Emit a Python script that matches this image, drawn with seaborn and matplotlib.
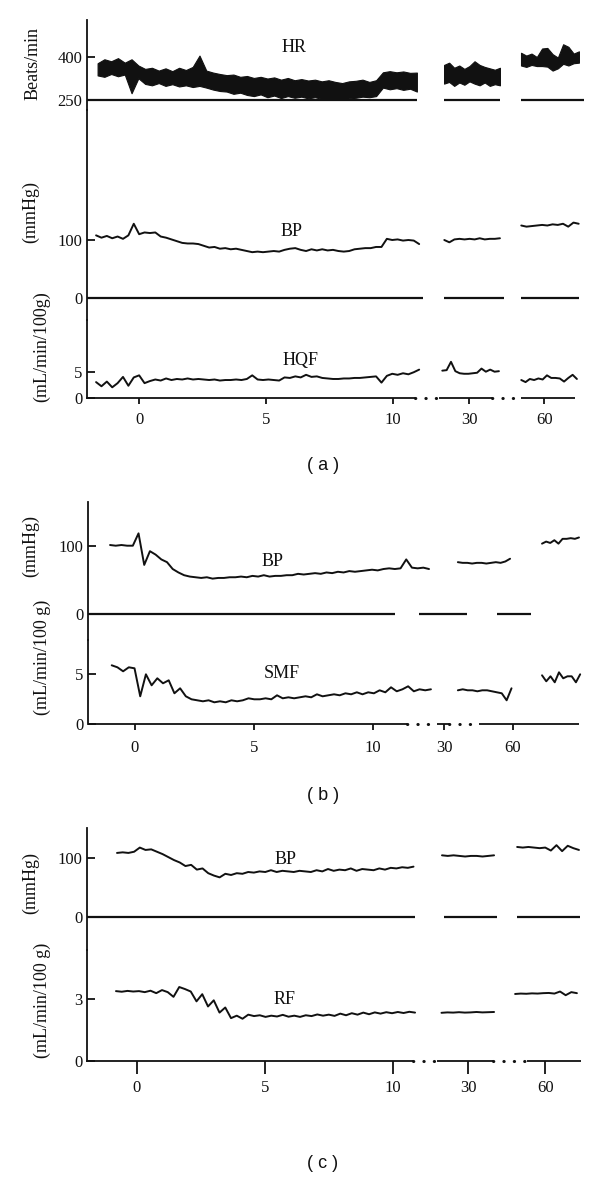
import numpy as np
import matplotlib.pyplot as plt
import seaborn as sns

sns.set_style('ticks')
plt.rcParams['font.family'] = ['Liberation Serif', 'DejaVu Serif']

W, H = 600, 1179
RIGHT = 595
INK = '#111111'

# ---------------- data ----------------
time_labels = ['0', '5', '10', '30', '60']
a_time_ticks = [0, 5, 10, 13.0, 15.95]
b_time_ticks = [0, 5, 10, 12.98, 15.87]
c_time_ticks = [0, 5, 10, 12.94, 15.94]

# panel (a): heart rate band (beats/min)
a_hr_span = [(-1.63, 10.94), (12.01, 14.21), (15.04, 17.32)]
a_hr_hi_1 = [378, 392, 385, 396, 380, 392, 370, 358, 362, 352,
             360, 350, 362, 354, 365, 405, 352, 345, 340, 336,
             338, 330, 333, 326, 330, 324, 328, 320, 326, 318,
             322, 317, 320, 314, 318, 312, 308, 314, 316, 320,
             312, 318, 346, 350, 346, 349, 344, 345]
a_hr_lo_1 = [335, 330, 340, 332, 338, 272, 325, 305, 300, 308,
             298, 304, 296, 300, 294, 298, 292, 285, 280, 278,
             270, 274, 266, 262, 268, 258, 264, 255, 262, 256,
             260, 254, 258, 252, 250, 252, 250, 254, 256, 260,
             258, 262, 292, 286, 290, 284, 288, 278]
a_hr_hi_2 = [372, 380, 362, 370, 358, 368, 385, 372, 365, 360, 355, 362]
a_hr_lo_2 = [306, 312, 298, 310, 302, 314, 306, 300, 310, 298, 304, 300]
a_hr_hi_3 = [415, 405, 412, 400, 430, 432, 410, 398, 445, 436, 412, 420]
a_hr_lo_3 = [370, 365, 372, 368, 368, 366, 352, 360, 376, 370, 378, 380]
a_hr_base = [(-2.07, 10.94), (12.0, 14.2), (15.04, 17.5)]

# panel (a): blood pressure (mmHg)
a_bp_span = [(-1.69, 11.03), (12.02, 14.21), (15.05, 17.31)]
a_bp_1 = [108, 104, 107, 103, 106, 102, 108, 128, 110, 113,
          112, 113, 106, 104, 101, 98, 95, 94, 94, 93,
          90, 87, 88, 85, 86, 84, 85, 83, 81, 79,
          80, 79, 80, 81, 80, 83, 85, 86, 83, 81,
          84, 82, 84, 82, 83, 81, 80, 81, 84, 85,
          86, 86, 88, 88, 102, 100, 101, 99, 100, 99,
          93]
a_bp_2 = [100, 96, 101, 102, 101, 102, 101, 103, 101, 102, 102, 103]
a_bp_3 = [125, 123, 124, 125, 126, 125, 127, 126, 128, 123, 130, 128]
a_bp_base = [(-2.07, 11.18), (12.0, 14.37), (15.04, 17.32)]

# panel (a): hepatic flow HQF (mL/min/100g)
a_hqf_span = [(-1.69, 11.03), (11.94, 14.17), (15.05, 17.24)]
a_hqf_1 = [3.0, 2.2, 3.1, 2.0, 2.8, 4.0, 2.3, 3.9, 4.3, 2.8,
           3.2, 3.5, 3.3, 3.7, 3.4, 3.6, 3.5, 3.7, 3.5, 3.6,
           3.5, 3.4, 3.5, 3.3, 3.4, 3.4, 3.5, 3.4, 3.6, 4.3,
           3.5, 3.4, 3.5, 3.4, 3.3, 3.9, 3.8, 4.1, 3.9, 4.4,
           4.0, 4.1, 3.8, 3.7, 3.6, 3.6, 3.7, 3.7, 3.8, 3.8,
           3.9, 4.0, 4.1, 2.9, 4.2, 4.6, 4.4, 4.7, 4.5, 4.9,
           5.4]
a_hqf_2 = [5.2, 5.3, 6.9, 5.1, 4.7, 4.6, 4.6, 4.7, 4.8, 5.6, 5.0, 5.4, 5.0, 5.1]
a_hqf_3 = [3.4, 3.0, 3.6, 3.4, 3.7, 3.5, 4.3, 3.8, 3.8, 3.7, 3.1, 3.8, 4.4, 3.6]
a_axis = [(-2.07, 10.87), (11.82, 13.89), (15.04, 17.17)]

# panel (b): blood pressure (mmHg)
b_bp_span = [(-1.03, 12.35), (13.56, 15.75), (17.09, 18.64)]
b_bp_1 = [101, 100, 101, 100, 100, 118, 72, 92, 87, 80,
          76, 66, 61, 57, 55, 54, 53, 54, 52, 53,
          53, 54, 54, 55, 54, 56, 55, 57, 55, 56,
          56, 57, 57, 59, 58, 59, 60, 59, 61, 60,
          62, 61, 63, 62, 63, 64, 65, 64, 66, 67,
          66, 67, 80, 68, 67, 68, 66]
b_bp_2 = [76, 75, 75, 74, 75, 75, 74, 75, 76, 75, 77, 81]
b_bp_3 = [103, 106, 104, 108, 103, 110, 110, 111, 110, 112]
b_bp_base = [(-1.93, 10.92), (11.93, 13.94), (15.2, 16.63)]

# panel (b): skeletal muscle flow SMF (mL/min/100 g)
b_smf_span = [(-0.96, 12.43), (13.56, 15.81), (17.09, 18.69)]
b_smf_1 = [5.9, 5.7, 5.3, 5.7, 5.6, 2.8, 5.0, 3.9, 4.6, 4.1,
           4.4, 3.1, 3.6, 2.8, 2.5, 2.4, 2.3, 2.4, 2.2, 2.3,
           2.2, 2.4, 2.3, 2.4, 2.6, 2.5, 2.5, 2.6, 2.5, 2.9,
           2.6, 2.7, 2.6, 2.7, 2.8, 2.7, 3.0, 2.8, 2.9, 3.0,
           2.9, 3.1, 3.0, 3.2, 3.0, 3.2, 3.1, 3.4, 3.2, 3.7,
           3.3, 3.5, 3.8, 3.3, 3.5, 3.4, 3.5]
b_smf_2 = [3.4, 3.5, 3.4, 3.4, 3.3, 3.4, 3.4, 3.3, 3.2, 3.1, 2.4, 3.6]
b_smf_3 = [4.9, 4.3, 4.8, 4.2, 5.2, 4.6, 4.8, 4.8, 4.2, 5.0]
b_axis = [(-1.97, 11.43), (12.70, 13.17), (14.43, 18.64)]

# panel (c): blood pressure (mmHg)
c_bp_span = [(-0.76, 10.80), (11.91, 13.94), (14.84, 17.25)]
c_bp_1 = [108, 109, 108, 110, 117, 113, 114, 110, 106, 101,
          96, 92, 86, 88, 80, 82, 74, 70, 67, 73,
          71, 74, 73, 76, 75, 77, 76, 79, 76, 78,
          77, 76, 78, 77, 76, 79, 77, 81, 78, 80,
          79, 82, 78, 81, 80, 79, 82, 80, 83, 82,
          84, 83, 85]
c_bp_2 = [104, 103, 104, 103, 102, 103, 103, 102, 103, 104]
c_bp_3 = [118, 117, 118, 117, 116, 117, 112, 121, 111, 120, 116, 113]
c_bp_base = [(-1.95, 10.84), (11.97, 14.06), (14.84, 17.29)]

# panel (c): renal flow RF (mL/min/100 g)
c_rf_span = [(-0.80, 10.86), (11.89, 13.94), (14.76, 17.17)]
c_rf_1 = [3.40, 3.37, 3.41, 3.38, 3.40, 3.35, 3.42, 3.30, 3.45, 3.35,
          3.12, 3.60, 3.50, 3.38, 2.90, 3.25, 2.65, 2.95, 2.35, 2.60,
          2.08, 2.20, 2.05, 2.25, 2.18, 2.22, 2.14, 2.20, 2.16, 2.24,
          2.15, 2.20, 2.14, 2.22, 2.18, 2.26, 2.20, 2.25, 2.19, 2.30,
          2.22, 2.32, 2.25, 2.35, 2.27, 2.36, 2.30, 2.37, 2.32, 2.38,
          2.33, 2.39, 2.35]
c_rf_2 = [2.34, 2.36, 2.35, 2.37, 2.35, 2.36, 2.38, 2.36, 2.37, 2.38]
c_rf_3 = [3.26, 3.28, 3.27, 3.29, 3.28, 3.30, 3.31, 3.28, 3.38, 3.20, 3.35, 3.30]
c_axis = [(-1.95, 10.77), (11.72, 13.90), (15.22, 17.33)]

# ---------------- helpers ----------------
fig = plt.figure(figsize=(W / 100, H / 100), dpi=100)


def track(top, bot, left, p0, p10, ref_hi, ref_lo, yticks):
    # one recording channel; pixel refs pin the scale to the original
    ax = fig.add_axes([left / W, 1 - bot / H, (RIGHT - left) / W, (bot - top) / H])
    k = 10 / (p10 - p0)
    ax.set_xlim((left - p0) * k, (RIGHT - p0) * k)
    s = (ref_hi[0] - ref_lo[0]) / (ref_lo[1] - ref_hi[1])
    ax.set_ylim(ref_lo[0] - (bot - ref_lo[1]) * s, ref_hi[0] + (ref_hi[1] - top) * s)
    ax.set_yticks(yticks)
    ax.set_xticks([])
    sns.despine(ax=ax, bottom=True)
    ax.spines['left'].set_linewidth(1.3)
    ax.spines['left'].set_color(INK)
    ax.tick_params(axis='y', direction='in', length=6, width=1.3,
                   labelsize=12, pad=3, colors=INK)
    ax.patch.set_alpha(0)
    return ax


def trace(ax, spans, segs, lw=1.4):
    for (t0, t1), vals in zip(spans, segs):
        t = np.linspace(t0, t1, len(vals))
        sns.lineplot(x=t, y=vals, ax=ax, color=INK, linewidth=lw, estimator=None)


def baseline(ax, spans, level=0):
    ax.hlines([level] * len(spans), [s[0] for s in spans], [s[1] for s in spans],
              color=INK, linewidth=1.6)


def time_axis(ax, ticks, solid, tick_len, pad):
    ax.set_xticks(ticks, time_labels)
    ax.tick_params(axis='x', direction='out', length=tick_len, width=1.3,
                   labelsize=12, pad=pad, colors=INK)
    for a, b in solid:
        ax.plot([a, b], [0, 0], color=INK, lw=1.3, clip_on=False, solid_capstyle='butt')
    for (_, e0), (s1, _) in zip(solid[:-1], solid[1:]):
        ax.plot([e0, s1], [0, 0], color=INK, lw=2.2, clip_on=False,
                ls=(0, (0.1, 3.3)), dash_capstyle='round')


def ylab(ax, text, x, y):
    ax.set_ylabel(text, fontsize=13, va='center', color=INK)
    ax.yaxis.set_label_coords(x / W, 1 - y / H, transform=fig.transFigure)


def tag(text, x, y, **kw):
    fig.text(x / W, 1 - y / H, text, ha='center', va='center', color=INK, **kw)


# ---------------- panel (a) ----------------
ax_hr = track(20, 110, 86.5, 139, 393, (400, 57), (250, 99.5), [250, 400])
for (t0, t1), lo, hi in zip(a_hr_span, [a_hr_lo_1, a_hr_lo_2, a_hr_lo_3],
                            [a_hr_hi_1, a_hr_hi_2, a_hr_hi_3]):
    t = np.linspace(t0, t1, len(lo))
    ax_hr.fill_between(t, lo, hi, color=INK, linewidth=0.8)
baseline(ax_hr, a_hr_base, 250)
ylab(ax_hr, 'Beats/min', 33, 63)
tag('HR', 294, 48, fontsize=13)

ax_abp = track(110, 320, 86.5, 139, 393, (100, 240), (0, 298), [0, 100])
trace(ax_abp, a_bp_span, [a_bp_1, a_bp_2, a_bp_3])
baseline(ax_abp, a_bp_base)
ylab(ax_abp, '(mmHg)', 31, 212)
tag('BP', 292, 232, fontsize=13)

ax_hqf = track(320, 397.7, 86.5, 139, 393, (5, 371.7), (0, 397.7), [0, 5])
trace(ax_hqf, a_hqf_span, [a_hqf_1, a_hqf_2, a_hqf_3])
time_axis(ax_hqf, a_time_ticks, a_axis, 4, 6)
ylab(ax_hqf, '(mL/min/100g)', 42, 347)
tag('HQF', 301, 360, fontsize=13)
tag('( a )', 323, 465, fontsize=13, family='Liberation Sans')

# ---------------- panel (b) ----------------
ax_bbp = track(502, 640, 87.7, 134.6, 373, (100, 545.7), (0, 614.3), [0, 100])
trace(ax_bbp, b_bp_span, [b_bp_1, b_bp_2, b_bp_3])
baseline(ax_bbp, b_bp_base)
ylab(ax_bbp, '(mmHg)', 31, 546)
tag('BP', 273, 561, fontsize=13)

ax_smf = track(640, 724.3, 87.7, 134.6, 373, (5, 674.3), (0, 724.3), [0, 5])
trace(ax_smf, b_smf_span, [b_smf_1, b_smf_2, b_smf_3])
time_axis(ax_smf, b_time_ticks, b_axis, 4, 7)
ylab(ax_smf, '(mL/min/100 g)', 42, 657)
tag('SMF', 282, 673, fontsize=13)
tag('( b )', 323, 795, fontsize=13, family='Liberation Sans')

# ---------------- panel (c) ----------------
ax_cbp = track(828, 950, 86.5, 136.5, 393, (100, 857.7), (0, 917.3), [0, 100])
trace(ax_cbp, c_bp_span, [c_bp_1, c_bp_2, c_bp_3])
baseline(ax_cbp, c_bp_base)
ylab(ax_cbp, '(mmHg)', 31, 883)
tag('BP', 286, 859, fontsize=13)

ax_rf = track(950, 1060.7, 86.5, 136.5, 393, (3, 999.3), (0, 1060.7), [0, 3])
trace(ax_rf, c_rf_span, [c_rf_1, c_rf_2, c_rf_3])
time_axis(ax_rf, c_time_ticks, c_axis, 9, 5)
ax_rf.set_xlabel('Time (min)', fontsize=13, color=INK, labelpad=4)
ylab(ax_rf, '(mL/min/100 g)', 42, 1000)
tag('RF', 285, 1000, fontsize=13)
tag('( c )', 323, 1163, fontsize=13, family='Liberation Sans')

fig.savefig('out.png', dpi=100, facecolor='white')
